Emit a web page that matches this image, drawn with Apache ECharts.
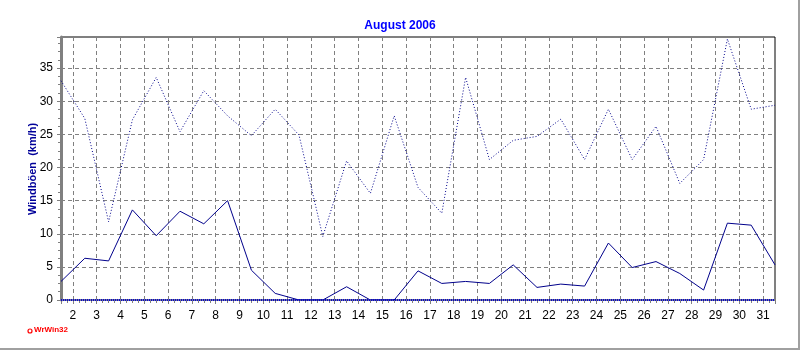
<!DOCTYPE html>
<html><head><meta charset="utf-8">
<script src="https://cdn.jsdelivr.net/npm/echarts@6/dist/echarts.min.js"></script>
<style>html,body{margin:0;padding:0;background:#fff}#c{width:800px;height:350px}</style>
</head><body><div id="c"></div>
<script>
const days = [1,2,3,4,5,6,7,8,9,10,11,12,13,14,15,16,17,18,19,20,21,22,23,24,25,26,27,28,29,30,31];
const maxGust = [33.1,27.4,11.8,27.2,33.6,25.4,31.6,27.8,24.8,28.8,24.9,9.6,21.0,16.1,27.8,17.0,13.1,33.6,21.2,24.1,24.7,27.3,21.2,28.8,21.2,26.2,17.6,21.2,39.4,28.8,29.4];
const avgGust = [2.8,6.3,5.9,13.6,9.7,13.4,11.5,15.0,4.5,1.0,0,0,2.0,0,0,4.4,2.5,2.8,2.5,5.3,1.9,2.4,2.1,8.6,4.9,5.8,4.0,1.5,11.6,11.3,5.3];
const minGust = [0,0,0,0,0,0,0,0,0,0,0,0,0,0,0,0,0,0,0,0,0,0,0,0,0,0,0,0,0,0,0];
const titleText = 'August 2006';
const yName = 'Windböen  (km/h)';

const pts = arr => arr.map((v,i)=>[days[i]+0.5, v]);
const chart = echarts.init(document.getElementById('c'));
const font = 'Arial, "Liberation Sans", sans-serif';
chart.setOption({
  animation:false,
  title:{text:titleText,left:'center',top:15,textStyle:{color:'#0000ff',fontSize:12,fontWeight:'bold',fontFamily:font}},
  grid:{left:61,right:25,top:37,bottom:50,show:true,borderColor:'#000',borderWidth:1,backgroundColor:'transparent'},
  xAxis:{type:'value',min:1.5,max:31.5,splitNumber:30,minInterval:1,maxInterval:1,
    axisLine:{show:true,onZero:false,lineStyle:{color:'#808080',width:2}},
    axisTick:{show:true,length:4,lineStyle:{color:'#808080'}},
    minorTick:{show:true,splitNumber:4,length:3,lineStyle:{color:'#808080'}},
    splitLine:{show:true,lineStyle:{color:'#808080',type:[4,3],width:1}},
    axisLabel:{color:'#000',fontSize:12,fontFamily:font,margin:10,
      formatter:v=>Number.isInteger(v)?String(v):''}},
  yAxis:{type:'value',min:0,max:39.7,interval:5,
    axisLine:{show:true,lineStyle:{color:'#808080',width:3}},
    axisTick:{show:true,length:4,lineStyle:{color:'#808080'}},
    minorTick:{show:true,splitNumber:4,length:3,lineStyle:{color:'#808080'}},
    splitLine:{show:true,lineStyle:{color:'#808080',type:[4,3],width:1}},
    axisLabel:{color:'#000',fontSize:12,fontFamily:font,margin:8,showMaxLabel:false,
      formatter:v=>(v%5===0)?String(v):''}},
  series:[
    {type:'line',data:pts(maxGust),symbol:'none',lineStyle:{color:'#00008b',width:1,type:[1,2]},z:3},
    {type:'line',data:pts(avgGust),symbol:'none',lineStyle:{color:'#00008b',width:1,type:'solid'},z:4},
    {type:'line',data:pts(minGust),symbol:'none',lineStyle:{color:'#0000dd',width:2,type:[1,1]},z:5,clip:false}
  ],
  graphic:[
    {type:'text',x:27,y:215,rotation:Math.PI/2,style:{text:yName,fill:'#000099',font:'bold 11px '+font}},
    {type:'circle',shape:{cx:30,cy:331,r:2},style:{fill:'#fff',stroke:'#ff0000',lineWidth:1.2}},
    {type:'text',x:34,y:326,style:{text:'WrWin32',fill:'#ff0000',font:'bold 8px '+font}},
    {type:'line',shape:{x1:799,y1:0,x2:799,y2:349},style:{stroke:'#a0a0a0',lineWidth:2}},
    {type:'line',shape:{x1:0,y1:349,x2:800,y2:349},style:{stroke:'#a0a0a0',lineWidth:2}}
  ]
});
</script></body></html>
